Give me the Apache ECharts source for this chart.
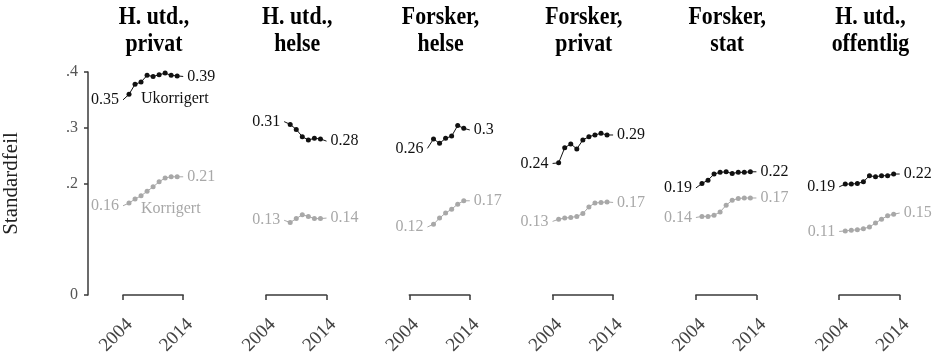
<!DOCTYPE html>
<html>
<head>
<meta charset="utf-8">
<script src="https://cdn.jsdelivr.net/npm/echarts@6/dist/echarts.min.js"></script>
<style>
  html, body { margin: 0; padding: 0; background: #fff; }
  #chart { width: 934px; height: 361px; }
</style>
</head>
<body>
<div id="chart"></div>
<script>
// Standard errors per sector, uncorrected vs corrected, 2004-2014
const panelTitles = ['H. utd.,\nprivat', 'H. utd.,\nhelse', 'Forsker,\nhelse', 'Forsker,\nprivat', 'Forsker,\nstat', 'H. utd.,\noffentlig'];
const firstYear = [2004, 2007, 2007, 2004, 2004, 2004];
const yearTicks = [2004, 2014];
const yTickValues = [0, 0.2, 0.3, 0.4];
const yTickLabels = ['0', '.2', '.3', '.4'];

// Ukorrigert (uncorrected)
const ukorrHUtdPrivat   = [0.350, 0.360, 0.378, 0.382, 0.394, 0.392, 0.395, 0.398, 0.394, 0.393, 0.392];
const ukorrHUtdHelse    = [0.311, 0.306, 0.297, 0.284, 0.278, 0.281, 0.280, 0.276];
const ukorrForskerHelse = [0.263, 0.280, 0.272, 0.281, 0.285, 0.304, 0.299, 0.296];
const ukorrForskerPriv  = [0.236, 0.237, 0.264, 0.271, 0.262, 0.278, 0.284, 0.287, 0.290, 0.287, 0.287];
const ukorrForskerStat  = [0.192, 0.200, 0.206, 0.217, 0.220, 0.221, 0.218, 0.220, 0.220, 0.221, 0.221];
const ukorrHUtdOff      = [0.194, 0.199, 0.199, 0.200, 0.203, 0.214, 0.212, 0.214, 0.214, 0.217, 0.217];

// Korrigert (corrected)
const korrHUtdPrivat   = [0.160, 0.165, 0.172, 0.178, 0.186, 0.194, 0.203, 0.210, 0.212, 0.212, 0.212];
const korrHUtdHelse    = [0.134, 0.130, 0.137, 0.144, 0.141, 0.137, 0.137, 0.138];
const korrForskerHelse = [0.122, 0.127, 0.138, 0.147, 0.154, 0.163, 0.169, 0.169];
const korrForskerPriv  = [0.132, 0.136, 0.138, 0.139, 0.141, 0.146, 0.158, 0.165, 0.166, 0.167, 0.166];
const korrForskerStat  = [0.139, 0.141, 0.141, 0.143, 0.149, 0.161, 0.170, 0.173, 0.174, 0.174, 0.174];
const korrHUtdOff      = [0.114, 0.115, 0.116, 0.117, 0.119, 0.122, 0.129, 0.136, 0.142, 0.145, 0.147];

const ukorrigert = [ukorrHUtdPrivat, ukorrHUtdHelse, ukorrForskerHelse, ukorrForskerPriv, ukorrForskerStat, ukorrHUtdOff];
const korrigert = [korrHUtdPrivat, korrHUtdHelse, korrForskerHelse, korrForskerPriv, korrForskerStat, korrHUtdOff];
const seriesNames = ['Ukorrigert', 'Korrigert'];

const FONT = '"Liberation Serif", "Times New Roman", serif';
const BLACK = '#111111';
const GREY = '#a8a8a8';
const AXIS = '#3a3a3a';

const panelLeft = 122.7, panelStep = 143.3, panelWidth = 60.5;
const plotTop = 72, plotHeight = 223;

const fmt = v => String(Number(v.toFixed(2)));

const grids = [], xAxes = [], yAxes = [], series = [], headers = [];

panelTitles.forEach((title, i) => {
  const left = panelLeft + panelStep * i;
  grids.push({ left: left, top: plotTop, width: panelWidth, height: plotHeight, containLabel: false });
  // panel heading: bold serif, horizontally narrowed
  headers.push({
    type: 'text',
    x: left + panelWidth / 2 + 1,
    y: 4,
    scaleX: 0.84,
    silent: true,
    style: {
      text: title, fill: '#000',
      font: 'bold 26px ' + FONT,
      lineHeight: 27, align: 'center', verticalAlign: 'top'
    }
  });
  xAxes.push({
    type: 'value', gridIndex: i, min: yearTicks[0], max: yearTicks[1], interval: yearTicks[1] - yearTicks[0],
    offset: 10,
    splitLine: { show: false },
    axisLine: { show: true, lineStyle: { color: AXIS, width: 1.5 } },
    axisTick: { show: true, length: 5, lineStyle: { color: AXIS, width: 1.5 } },
    axisLabel: {
      rotate: 45, align: 'right', verticalAlign: 'top', margin: 10,
      fontFamily: FONT, fontSize: 19, color: '#444', formatter: v => String(v)
    }
  });
  const first = i === 0;
  yAxes.push({
    type: 'value', gridIndex: i, min: 0, max: 0.4,
    show: first,
    offset: 35,
    name: first ? 'Standardfeil' : '',
    nameLocation: 'middle', nameGap: 66, nameRotate: 90,
    nameTextStyle: { fontFamily: FONT, fontSize: 21, color: '#222' },
    splitLine: { show: false },
    axisLine: { show: first, lineStyle: { color: AXIS, width: 1.5 } },
    axisTick: { show: first, length: 4, customValues: yTickValues, lineStyle: { color: AXIS, width: 1.5 } },
    axisLabel: {
      show: first, customValues: yTickValues, margin: 10,
      fontFamily: FONT, fontSize: 16, color: '#555',
      formatter: v => yTickLabels[yTickValues.findIndex(t => Math.abs(t - v) < 1e-9)] ?? ''
    }
  });

  [ukorrigert[i], korrigert[i]].forEach((vals, k) => {
    const color = k === 0 ? BLACK : GREY;
    const data = vals.map((v, j) => {
      const item = { value: [firstYear[i] + j, v] };
      const isFirst = j === 0, isLast = j === vals.length - 1;
      if (isFirst || isLast) {
        item.symbolSize = 0;
        item.label = {
          show: true, position: isFirst ? 'left' : 'right', distance: 4,
          formatter: fmt(v), fontFamily: FONT, fontSize: 16, color: color
        };
      }
      // series name written under the curve in the first panel
      if (i === 0 && firstYear[i] + j === 2007) {
        item.label = {
          show: true, position: 'bottom', align: 'left', distance: k === 0 ? 6 : 3,
          formatter: seriesNames[k], fontFamily: FONT, fontSize: 16, color: color
        };
      }
      return item;
    });
    series.push({
      type: 'line', name: seriesNames[k], xAxisIndex: i, yAxisIndex: i,
      data: data, symbol: 'circle', symbolSize: 5, showSymbol: true,
      itemStyle: { color: color }, lineStyle: { color: color, width: 1 },
      label: { show: false }, silent: true, animation: false, z: k === 0 ? 3 : 2
    });
  });
});

const chart = echarts.init(document.getElementById('chart'), null, { renderer: 'canvas' });
chart.setOption({
  backgroundColor: '#ffffff',
  animation: false,
  graphic: headers,
  grid: grids,
  xAxis: xAxes,
  yAxis: yAxes,
  series: series
});
</script>
</body>
</html>
